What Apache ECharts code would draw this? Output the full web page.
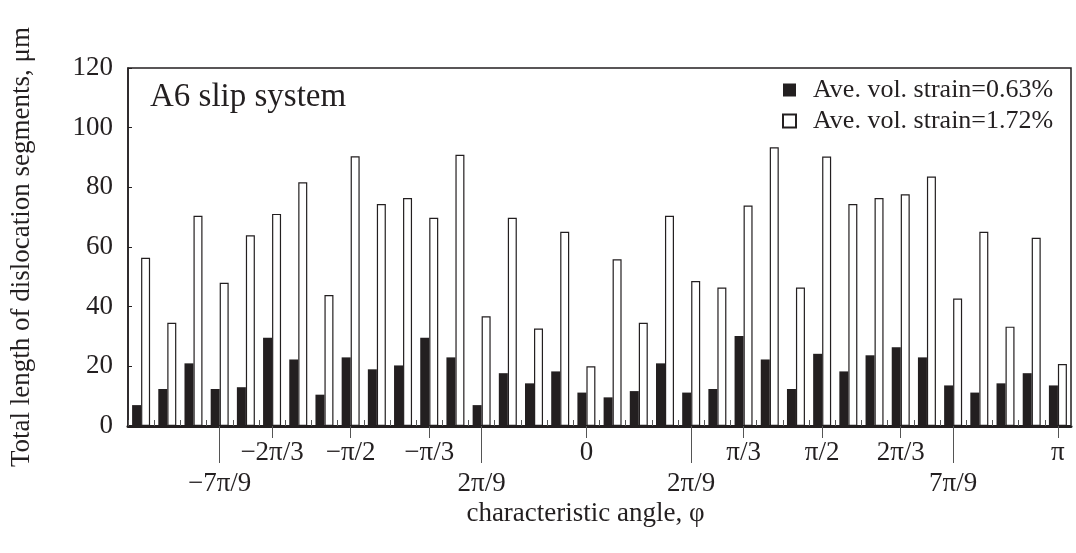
<!DOCTYPE html>
<html lang="en">
<head>
    <meta charset="UTF-8">
    <title>A6 slip system</title>
    <script src="https://cdn.jsdelivr.net/npm/echarts@6/dist/echarts.min.js"></script>
    <style>
        html, body { margin: 0; padding: 0; background: #fff; }
    </style>
</head>
<body>

<div id="main" style="width: 1076px;height:553px;"></div>

<script type="text/javascript">
    // 36 angle bins
    var categories = [];
    for (var k = 1; k <= 36; k++) categories.push(String(k));

    var strainLow = [7, 12.4, 21, 12.4, 13, 29.6, 22.3, 10.5, 23, 19, 20.3, 29.6, 23, 7, 17.7, 14.3, 18.3, 11.2,
        9.6, 11.7, 21, 11.2, 12.4, 30.2, 22.3, 12.4, 24.2, 18.3, 23.7, 26.4, 23, 13.6, 11.2, 14.3, 17.7, 13.6];
    var strainHigh = [56.4, 34.6, 70.5, 48, 63.9, 71.1, 81.7, 43.9, 90.4, 74.4, 76.4, 69.8, 90.9, 36.8, 69.8, 32.7, 65.1, 20,
        55.9, 34.6, 70.5, 48.6, 46.4, 73.9, 93.4, 46.4, 90.3, 74.4, 76.4, 77.7, 83.6, 42.7, 65.1, 33.3, 63.1, 20.8];

    // angle labels under the axis: bin index, text, row (0 = upper, 1 = lower)
    var anglePos = [3, 5, 8, 11, 13, 17, 21, 23, 26, 29, 31, 35];
    var angleText = ['\u22127\u03c0/9', '\u22122\u03c0/3', '\u2212\u03c0/2', '\u2212\u03c0/3', '2\u03c0/9', '0',
        '2\u03c0/9', '\u03c0/3', '\u03c0/2', '2\u03c0/3', '7\u03c0/9', '\u03c0'];
    var angleRow = [1, 0, 0, 0, 1, 0, 1, 0, 0, 0, 1, 0];

    var FONT = '"Liberation Serif", "DejaVu Serif", serif';
    var INK = '#231f20';

    function angleTick(row) {
        return function (idx) {
            var p = anglePos.indexOf(idx);
            return p >= 0 && angleRow[p] === row;
        };
    }
    function angleFormatter(row) {
        return function (value, idx) {
            var p = anglePos.indexOf(idx);
            return (p >= 0 && angleRow[p] === row) ? angleText[p] : '';
        };
    }

    var myChart = echarts.init(document.getElementById('main'), null, {renderer: 'canvas'});

    var option = {
        animation: false,
        backgroundColor: '#fff',
        textStyle: {fontFamily: FONT, color: INK},
        grid: {
            left: 127, right: 5, top: 68, bottom: 127,
            show: true, borderColor: INK, borderWidth: 1.5, backgroundColor: 'transparent'
        },
        title: {
            text: 'A6 slip system',
            left: 145, top: 76,
            textStyle: {fontFamily: FONT, fontSize: 33, fontWeight: 'normal', color: INK}
        },
        legend: {
            orient: 'vertical',
            left: 777, top: 72,
            itemWidth: 13, itemHeight: 13, itemGap: 5,
            icon: 'rect',
            textStyle: {fontFamily: FONT, fontSize: 26, color: INK, padding: [0, 0, 0, 12]},
            data: ['Ave. vol. strain=0.63%', 'Ave. vol. strain=1.72%']
        },
        xAxis: [{
            type: 'category',
            data: categories,
            position: 'bottom',
            name: 'characteristic angle, \u03c6',
            nameLocation: 'middle',
            nameGap: 74,
            nameTextStyle: {fontFamily: FONT, fontSize: 27, color: INK, padding: [0, 28, 0, 0]},
            axisLine: {show: true, lineStyle: {color: INK, width: 3}},
            axisTick: {show: true, interval: 0, inside: true, length: 6, lineStyle: {color: '#555', width: 1}},
            axisLabel: {show: false},
            splitLine: {show: false}
        }, {
            type: 'category',
            data: categories,
            position: 'bottom',
            axisLine: {show: false},
            axisTick: {show: true, alignWithLabel: true, length: 12, interval: angleTick(0),
                lineStyle: {color: '#555', width: 1}},
            axisLabel: {interval: 0, margin: 13, formatter: angleFormatter(0),
                fontFamily: FONT, fontSize: 27, color: INK}
        }, {
            type: 'category',
            data: categories,
            position: 'bottom',
            axisLine: {show: false},
            axisTick: {show: true, alignWithLabel: true, length: 37, interval: angleTick(1),
                lineStyle: {color: '#555', width: 1}},
            axisLabel: {interval: 0, margin: 44, formatter: angleFormatter(1),
                fontFamily: FONT, fontSize: 27, color: INK}
        }],
        yAxis: {
            type: 'value',
            min: 0, max: 120, interval: 20,
            name: 'Total length of dislocation segments, \u03bcm',
            nameLocation: 'middle',
            nameGap: 93,
            nameTextStyle: {fontFamily: FONT, fontSize: 27, color: INK},
            axisLine: {show: true, lineStyle: {color: INK, width: 1.5}},
            axisTick: {show: true, inside: true, length: 4, lineStyle: {color: INK}},
            axisLabel: {margin: 15, fontFamily: FONT, fontSize: 27, color: INK},
            splitLine: {show: false}
        },
        series: [{
            name: 'Ave. vol. strain=0.63%',
            type: 'bar',
            data: strainLow,
            barWidth: 9,
            barGap: '0%',
            itemStyle: {color: INK}
        }, {
            name: 'Ave. vol. strain=1.72%',
            type: 'bar',
            data: strainHigh,
            barWidth: 9,
            itemStyle: {color: '#fff', borderColor: INK, borderWidth: 1.2}
        }]
    };

    myChart.setOption(option);
</script>
</body>
</html>
